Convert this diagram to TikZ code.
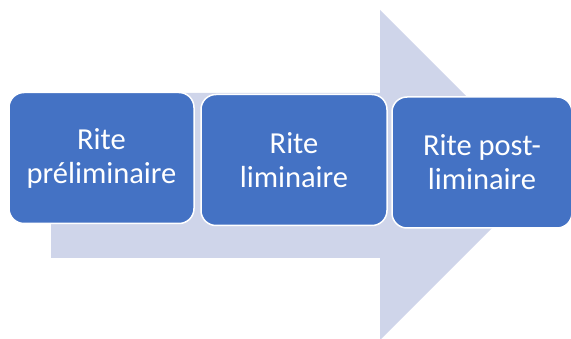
\documentclass[tikz,border=0pt]{standalone}
\usepackage{fontspec}
\setmainfont{Carlito}
\usetikzlibrary{positioning}

\begin{document}
\begin{tikzpicture}[x=1pt, y=-1pt,
    stage/.style={draw=white, line width=1.5pt, fill=boxblue, rounded corners=15pt,
      text=white, align=center, font=\fontsize{30.5}{34}\selectfont,
      minimum height=131pt, inner sep=0pt}]
    \definecolor{boxblue}{RGB}{68,114,196}
    \definecolor{band}{RGB}{207,213,234}
    \useasboundingbox (0,0) rectangle (571,339);

    \fill[color=band] (51,93) -- (380,93) -- (380,10) -- (545,175)
      -- (380,340) -- (380,258) -- (51,258) -- cycle;

    \node[stage, minimum width=185pt] (pre)  at (101.5,158) {Rite\\préliminaire};
    \node[stage, minimum width=186pt] (lim)  at (294,160)   {Rite\\liminaire};
    \node[stage, minimum width=180pt] (post) at (482,162.5) {Rite post-\\liminaire};
\end{tikzpicture}
\end{document}
